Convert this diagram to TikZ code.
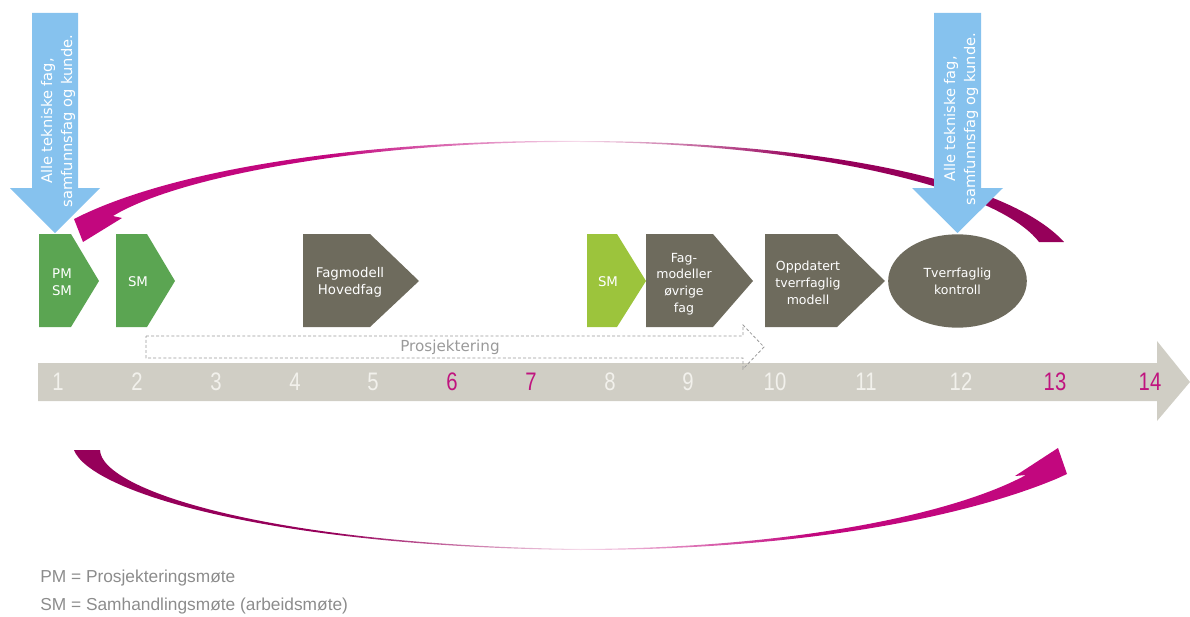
\documentclass[tikz,border=0pt]{standalone}
\usepackage{fontspec}
\setmainfont{DejaVu Sans}
\newfontfamily\numfont{Liberation Sans}
\usetikzlibrary{shapes.geometric}

\definecolor{meetgreen}{HTML}{5BA552}
\definecolor{sidegreen}{HTML}{9CC43C}
\definecolor{modelgrey}{HTML}{6E6B5D}
\definecolor{inputblue}{HTML}{86C2EE}
\definecolor{timebar}{HTML}{D0CEC5}
\definecolor{numlight}{HTML}{F2F1EC}
\definecolor{numhot}{HTML}{C0147F}
\definecolor{plangrey}{HTML}{9A9A9A}
\definecolor{legendgrey}{HTML}{8C8C8C}
\definecolor{loopdark}{HTML}{96005A}
\definecolor{loopbright}{HTML}{C2077E}
\definecolor{loopfade}{HTML}{F6DCEB}

% the loops fade out towards the middle of their span
\pgfdeclarehorizontalshading{loopbacktop}{100bp}{color(0bp)=(loopbright); color(25bp)=(loopbright); color(38bp)=(loopbright); color(50.5bp)=(loopfade); color(62bp)=(loopdark); color(75bp)=(loopdark); color(100bp)=(loopdark)}
\pgfdeclarehorizontalshading{loopforward}{100bp}{color(0bp)=(loopdark); color(25bp)=(loopdark); color(38bp)=(loopdark); color(50.5bp)=(loopfade); color(62bp)=(loopbright); color(75bp)=(loopbright); color(100bp)=(loopbright)}

% pentagon step: left edge, shoulder, tip, colour
\newcommand{\stepshape}[4]{%
  \fill[#4] (#1,234) -- (#2,234) -- (#3,281) -- (#2,327) -- (#1,327) -- cycle;}

\begin{document}
\begin{tikzpicture}[x=0.75pt,y=-0.75pt,
  boxtext/.style={text=white,font=\fontsize{10}{12.8}\selectfont,align=center,inner sep=0pt},
  smalltext/.style={boxtext,font=\fontsize{9.4}{12.6}\selectfont},
  arrowtext/.style={text=white,font=\fontsize{11}{15}\selectfont,align=center,inner sep=0pt,rotate=90},
  daynum/.style={text=numlight,font=\numfont\fontsize{19}{20}\selectfont,inner sep=0pt},
  hotnum/.style={daynum,text=numhot},
  legend/.style={anchor=west,text=legendgrey,font=\numfont\fontsize{13}{15}\selectfont,inner sep=0pt}]

\useasboundingbox (0,0) rectangle (1190,617);

% time line
\fill[timebar] (38,363) -- (1157,363) -- (1157,341) -- (1190,382) -- (1157,421)
  -- (1157,401) -- (38,401) -- cycle;

% design phase (dashed block arrow)
\draw[plangrey,line width=0.6pt,dash pattern=on 2.2pt off 1.6pt]
  (146,336) -- (743,336) -- (743,325) -- (764,347) -- (743,369) -- (743,358)
  -- (146,358) -- cycle;
\node[text=plangrey,font=\fontsize{11.4}{13}\selectfont,inner sep=0pt] (plan) at (450,347) {Prosjektering};

% day numbers
\foreach \x/\n/\s in {58/1/daynum,137/2/daynum,216/3/daynum,295/4/daynum,373/5/daynum,
  452/6/hotnum,531/7/hotnum,610/8/daynum,688/9/daynum,775/10/daynum,866/11/daynum,
  961/12/daynum,1055/13/hotnum,1150/14/hotnum}
  \node[\s] (d\n) at (\x,382) {\scalebox{0.8}[1]{\n}};

% feedback loops, thick at the ends and thin in the middle
\shade[shading=loopbacktop]
  (1064,242) .. controls (1004,176) and (800,141.3) .. (580,141)
  .. controls (380,139.3) and (178,166) .. (74,219)
  -- (83,242) -- (122,218) -- (113,216)
  .. controls (182,174) and (380,140.7) .. (580,142)
  .. controls (800,142.7) and (996,186) .. (1039,242) -- cycle;
\shade[shading=loopforward]
  (74,450) .. controls (90,492) and (270,546.8) .. (580,550)
  .. controls (800,549.8) and (962,518) .. (1056,479)
  -- (1067,474) -- (1058,448) -- (1015,476) -- (1026,475)
  .. controls (958,512) and (800,548.2) .. (580,549)
  .. controls (270,545.2) and (101,490) .. (100,450) -- cycle;

% steps
\stepshape{39}{71}{99}{meetgreen}
\node[boxtext] (pmsm) at (62,282) {PM\\SM};
\stepshape{116}{147}{175}{meetgreen}
\node[boxtext] (sm1) at (138,282) {SM};
\stepshape{303}{370}{419}{modelgrey}
\node[boxtext] (main) at (350,282) {Fagmodell\\Hovedfag};
\stepshape{587}{617}{646}{sidegreen}
\node[boxtext] (sm2) at (608,282) {SM};
\stepshape{646}{713}{753}{modelgrey}
\node[smalltext] (other) at (684,284) {Fag-\\modeller\\øvrige\\fag};
\stepshape{765}{837}{885}{modelgrey}
\node[smalltext] (upd) at (808,283) {Oppdatert\\tverrfaglig\\modell};
\node[ellipse,fill=modelgrey,minimum width=104pt,minimum height=70pt,smalltext] (ctrl)
  at (957.5,281) {Tverrfaglig\\kontroll};

% inputs from all parties
\fill[inputblue] (32,13) -- (78,13) -- (78,188) -- (100,188) -- (55,233) -- (10,188)
  -- (32,188) -- cycle;
\node[arrowtext] (in1) at (58,121) {Alle tekniske fag,\\samfunnsfag og kunde.};
\fill[inputblue] (934,13) -- (981,13) -- (981,188) -- (1003,188) -- (957.5,233)
  -- (912,188) -- (934,188) -- cycle;
\node[arrowtext] (in2) at (961,119) {Alle tekniske fag,\\samfunnsfag og kunde.};

% legend
\node[legend] (lgpm) at (40,578) {PM = Prosjekteringsmøte};
\node[legend] (lgsm) at (40,606) {SM = Samhandlingsmøte (arbeidsmøte)};
\end{tikzpicture}
\end{document}
